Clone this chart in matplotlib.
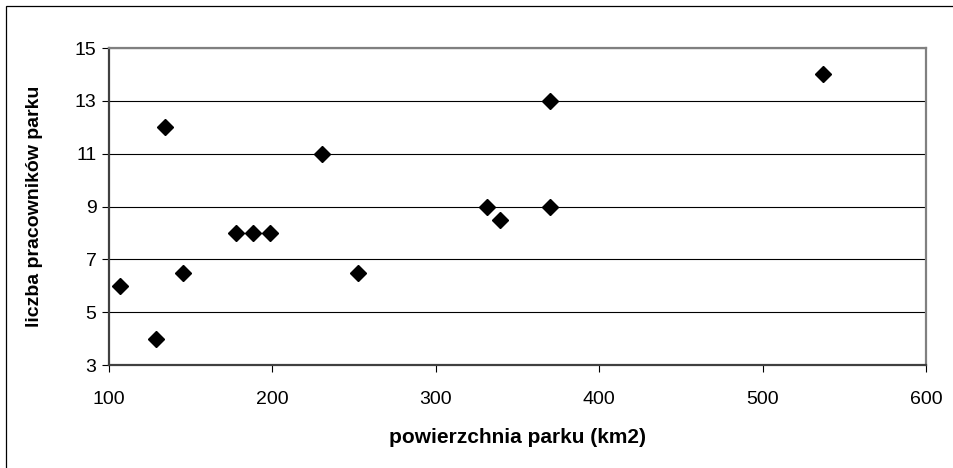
import matplotlib.pyplot as plt
from matplotlib.patches import Rectangle

plt.rcParams['font.family'] = ['Liberation Sans', 'DejaVu Sans']

# powierzchnia parku (km2) i liczba pracownikow
powierzchnia = [106.5, 128.5, 134.5, 145, 177.5, 188, 198.5, 230.5, 252.5,
                331.5, 339.5, 370, 370, 537]
pracownicy = [6, 4, 12, 6.5, 8, 8, 8, 11, 6.5, 9, 8.5, 13, 9, 14]

x_ticks = [100, 200, 300, 400, 500, 600]
y_ticks = [3, 5, 7, 9, 11, 13, 15]

W, H = 954, 468
fig = plt.figure(figsize=(W / 100, H / 100), dpi=100)

# ramka wokol wykresu (przycieta z prawej i z dolu)
fig.patches.append(Rectangle((6 / W, -0.1), 1.2, 1 - 6 / H + 0.1,
                             transform=fig.transFigure, fill=False,
                             edgecolor='black', linewidth=0.9))

ax = fig.add_axes([109 / W, (H - 365) / H, (926 - 109) / W, (365 - 48) / H])

ax.set_xlim(100, 600)
ax.set_ylim(3, 15)
ax.set_xticks(x_ticks)
ax.set_yticks(y_ticks)

ax.yaxis.grid(True, color='black', linewidth=0.8)
ax.set_axisbelow(True)

ax.plot(powierzchnia, pracownicy, linestyle='none', marker='D',
        markersize=8.5, color='black', zorder=3)

for side in ['top', 'right']:
    ax.spines[side].set_color('#808080')
    ax.spines[side].set_linewidth(1.6)
for side in ['left', 'bottom']:
    ax.spines[side].set_color('#404040')
    ax.spines[side].set_linewidth(1.6)

ax.tick_params(direction='out', length=5, width=0.8, color='black',
               labelsize=14, pad=4)
ax.tick_params(axis='x', pad=14)

ax.set_xlabel('powierzchnia parku (km2)', fontsize=15, fontweight='bold',
              labelpad=14)
ax.set_ylabel('liczba pracowników parku', fontsize=14, fontweight='bold',
              labelpad=23)

fig.savefig('out.png', dpi=100)
